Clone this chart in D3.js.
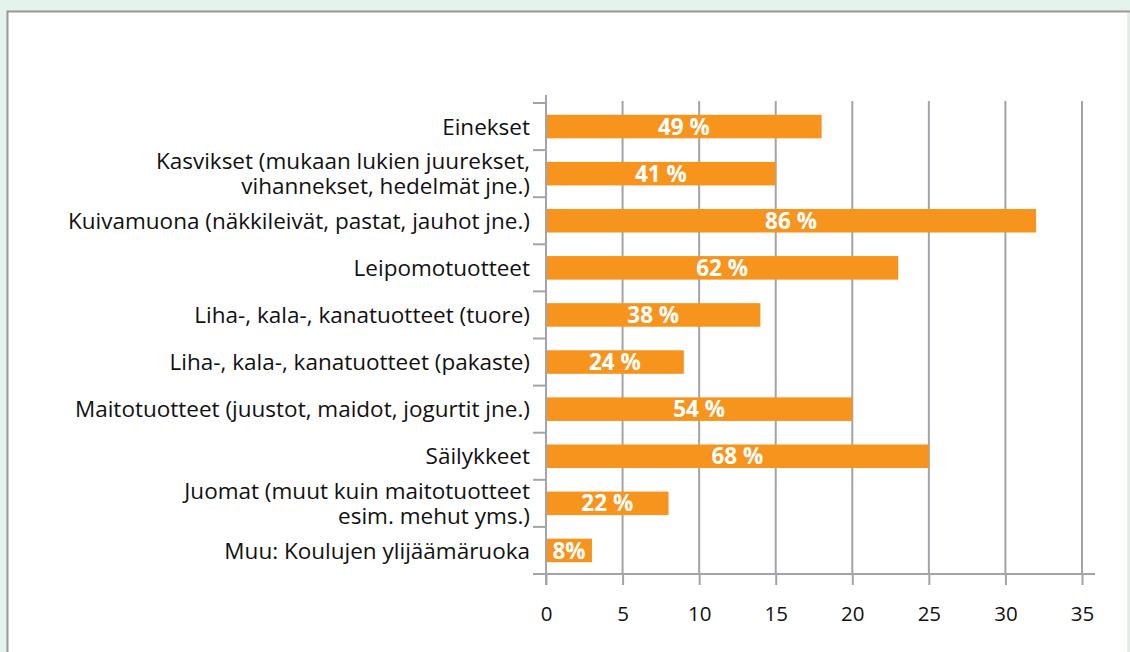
<!DOCTYPE html>
<html>
<head>
<meta charset="utf-8">
<script src="https://cdn.jsdelivr.net/npm/d3@7"></script>
<style>
  html, body { margin: 0; padding: 0; background: #e4f3ec; }
  #chart { width: 1130px; height: 652px; }
</style>
</head>
<body>
<div id="chart"></div>
<script>
// Categories (two-line labels split with \n)
const categories = [
  "Einekset",
  "Kasvikset (mukaan lukien juurekset,\nvihannekset, hedelmät jne.)",
  "Kuivamuona (näkkileivät, pastat, jauhot jne.)",
  "Leipomotuotteet",
  "Liha-, kala-, kanatuotteet (tuore)",
  "Liha-, kala-, kanatuotteet (pakaste)",
  "Maitotuotteet (juustot, maidot, jogurtit jne.)",
  "Säilykkeet",
  "Juomat (muut kuin maitotuotteet\nesim. mehut yms.)",
  "Muu: Koulujen ylijäämäruoka"
];
const values = [18, 15, 32, 23, 14, 9, 20, 25, 8, 3];
const shares = ["49 %", "41 %", "86 %", "62 %", "38 %", "24 %", "54 %", "68 %", "22 %", "8%"];
const xTicks = [0, 5, 10, 15, 20, 25, 30, 35];

const W = 1130, H = 652;
const FONT = "'Open Sans', sans-serif";
const data = categories.map((c, i) => ({ cat: c, v: values[i], s: shares[i] }));

const svg = d3.select("#chart").append("svg")
  .attr("width", W).attr("height", H)
  .attr("viewBox", `0 0 ${W} ${H}`);

// Mint page background + white panel
svg.append("rect").attr("width", W).attr("height", H).attr("fill", "#e4f3ec");
svg.append("rect").attr("x", 7).attr("y", 11).attr("width", 1121).attr("height", 660)
  .attr("fill", "#fff").attr("stroke", "#dcdcdc").attr("stroke-width", 1);
svg.append("path").attr("d", "M7.5,671V11.5H1130")
  .attr("fill", "none").attr("stroke", "#9a9a9a").attr("stroke-width", 2);

const x = d3.scaleLinear().domain([0, 35]).range([546, 1082]);
const y = d3.scaleBand().domain(categories).range([103, 574]).paddingInner(0.5).paddingOuter(0.25);
const yTickPos = d3.range(categories.length + 1).map(i => 103 + i * (574 - 103) / categories.length);

const gridCol = "#a3a3aa";

// Vertical gridlines
svg.append("g")
  .selectAll("line").data(xTicks.slice(1)).join("line")
  .attr("x1", d => x(d)).attr("x2", d => x(d))
  .attr("y1", 101).attr("y2", 574)
  .attr("stroke", gridCol).attr("stroke-width", 2);

// Bars
svg.append("g")
  .selectAll("rect").data(data).join("rect")
  .attr("x", x(0)).attr("y", d => y(d.cat))
  .attr("width", d => x(d.v) - x(0)).attr("height", y.bandwidth())
  .attr("fill", "#f7941e");

// Bar value labels
svg.append("g")
  .selectAll("text").data(data).join("text")
  .attr("x", d => (x(0) + x(d.v)) / 2)
  .attr("y", d => y(d.cat) + y.bandwidth() / 2)
  .attr("dy", "0.36em")
  .attr("text-anchor", "middle")
  .attr("fill", "#fff").attr("font-weight", "bold")
  .attr("font-size", 22.5).attr("font-family", FONT)
  .text(d => d.s);

// Y axis line + category ticks
svg.append("line").attr("x1", x(0)).attr("x2", x(0)).attr("y1", 95).attr("y2", 585)
  .attr("stroke", gridCol).attr("stroke-width", 2);
svg.append("g")
  .selectAll("line").data(yTickPos).join("line")
  .attr("x1", 533).attr("x2", x(0)).attr("y1", d => d).attr("y2", d => d)
  .attr("stroke", gridCol).attr("stroke-width", 2);

// X axis
svg.append("g").attr("transform", "translate(0,574)")
  .call(d3.axisBottom(x).tickValues(xTicks).tickSize(11).tickPadding(21).tickSizeOuter(0))
  .call(g => g.select(".domain").attr("d", "M533,0H1095").attr("stroke", gridCol).attr("stroke-width", 2))
  .call(g => g.selectAll(".tick line").attr("stroke", gridCol).attr("stroke-width", 2))
  .call(g => g.selectAll("text").attr("fill", "#111").attr("font-size", 20.5).attr("font-family", FONT));

// Category labels (two-line ones as separate texts)
const labelLines = data.flatMap(d => {
  const lines = d.cat.split("\n");
  const cy = y(d.cat) + y.bandwidth() / 2;
  return lines.map((l, i) => ({ text: l, cy: cy + (i - (lines.length - 1) / 2) * 25 }));
});
svg.append("g")
  .selectAll("text").data(labelLines).join("text")
  .attr("x", 530).attr("y", d => d.cy).attr("dy", "0.36em")
  .attr("text-anchor", "end")
  .attr("fill", "#111").attr("font-size", 22.5).attr("font-family", FONT)
  .text(d => d.text);
</script>
</body>
</html>
